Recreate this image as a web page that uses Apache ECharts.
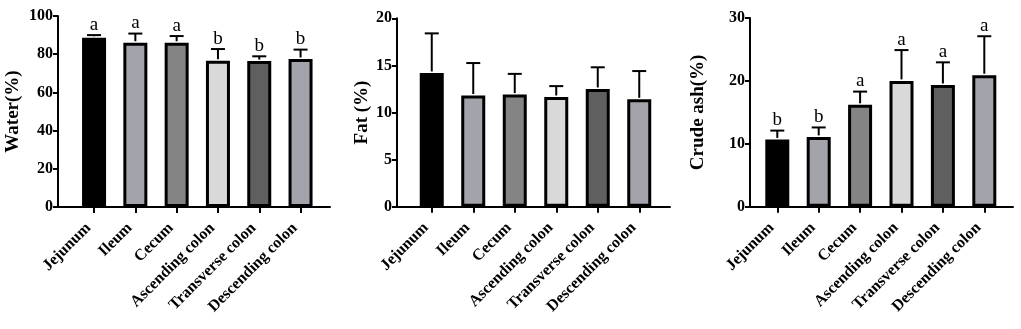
<!DOCTYPE html>
<html>
<head>
<meta charset="utf-8">
<script src="https://cdn.jsdelivr.net/npm/echarts@6/dist/echarts.min.js"></script>
<style>
  html, body { margin: 0; padding: 0; background: #fff; }
  #chart { width: 1021px; height: 329px; }
</style>
</head>
<body>
<div id="chart"></div>
<script>
// data (mean and upper SD)
const categories = ['Jejunum', 'Ileum', 'Cecum', 'Ascending colon', 'Transverse colon', 'Descending colon']
const barColors = ['#000000', '#a3a3ab', '#848484', '#d9d9d9', '#5f5f5f', '#a3a3ab']

const waterMean = [88.6, 86.0, 86.0, 76.6, 76.4, 77.5]
const waterSd = [1.4, 4.8, 3.5, 6.1, 2.5, 4.9]
const waterSig = ['a', 'a', 'a', 'b', 'b', 'b']

const fatMean = [14.2, 11.8, 11.9, 11.65, 12.5, 11.4]
const fatSd = [4.2, 3.45, 2.2, 1.15, 2.3, 3.0]
const fatSig = ['', '', '', '', '', '']

const ashMean = [10.7, 11.1, 16.2, 20.0, 19.35, 20.9]
const ashSd = [1.4, 1.5, 2.1, 4.9, 3.6, 6.2]
const ashSig = ['b', 'b', 'a', 'a', 'a', 'a']

const FONT = "'Liberation Serif', 'Times New Roman', serif"

// layout of the three panels: outer frame (axis lines) and inner band for the bars
const panels = [
  { name: 'Water(%)', max: 100, interval: 20, gap: 35, mean: waterMean, sd: waterSd, sig: waterSig,
    outer: { left: 58, width: 272, top: 16, height: 191 }, innerLeft: 73.4, innerWidth: 247.8 },
  { name: 'Fat (%)', max: 20, interval: 5, gap: 25, mean: fatMean, sd: fatSd, sig: fatSig,
    outer: { left: 397, width: 273, top: 18.3, height: 188.4 }, innerLeft: 411, innerWidth: 249 },
  { name: 'Crude ash(%)', max: 30, interval: 10, gap: 42, mean: ashMean, sd: ashSd, sig: ashSig,
    outer: { left: 750, width: 263, top: 18, height: 188.7 }, innerLeft: 756.6, innerWidth: 248.4 },
]

const grid = []
const xAxis = []
const yAxis = []
const series = []

panels.forEach((p, i) => {
  const a = i * 2
  const b = i * 2 + 1
  grid.push({ left: p.outer.left, width: p.outer.width, top: p.outer.top, height: p.outer.height })
  grid.push({ left: p.innerLeft, width: p.innerWidth, top: p.outer.top, height: p.outer.height })

  // frame axis: only the long baseline
  xAxis.push({
    type: 'value', gridIndex: a, min: 0, max: 1,
    axisLine: { show: true, lineStyle: { color: '#000', width: 2 } },
    axisTick: { show: false }, axisLabel: { show: false }, splitLine: { show: false },
  })
  // category axis for the bars
  xAxis.push({
    type: 'category', gridIndex: b, data: categories,
    axisLine: { show: false },
    axisTick: { show: true, alignWithLabel: true, length: 6, lineStyle: { color: '#000', width: 2 } },
    axisLabel: { rotate: 45, margin: 13, padding: [0, 8, 0, 0], color: '#000', fontFamily: FONT, fontWeight: 'bold', fontSize: 16, interval: 0 },
  })

  yAxis.push({
    type: 'value', gridIndex: a, min: 0, max: p.max, interval: p.interval,
    name: p.name, nameLocation: 'middle', nameGap: p.gap,
    nameTextStyle: { color: '#000', fontFamily: FONT, fontWeight: 'bold', fontSize: 19 },
    axisLine: { show: true, lineStyle: { color: '#000', width: 2 } },
    axisTick: { show: true, length: 5, lineStyle: { color: '#000', width: 2 } },
    axisLabel: { color: '#000', fontFamily: FONT, fontWeight: 'bold', fontSize: 16, margin: 5 },
    splitLine: { show: false },
  })
  yAxis.push({
    type: 'value', gridIndex: b, min: 0, max: p.max, interval: p.interval, show: false,
  })

  series.push({
    type: 'bar', xAxisIndex: b, yAxisIndex: b, barWidth: 24,
    data: p.mean.map((v, k) => ({ value: v, itemStyle: { color: barColors[k] } })),
    itemStyle: { borderColor: '#000', borderWidth: 3 },
    z: 2,
  })

  series.push({
    type: 'custom', xAxisIndex: b, yAxisIndex: b, z: 3,
    data: p.mean.map((v, k) => [k, v, v + p.sd[k]]),
    renderItem: (params, api) => {
      const idx = params.dataIndex
      const top = api.coord([api.value(0), api.value(1)])
      const cap = api.coord([api.value(0), api.value(2)])
      const children = [
        { type: 'line', shape: { x1: top[0], y1: top[1] - 1.5, x2: cap[0], y2: cap[1] }, style: { stroke: '#000', lineWidth: 2 } },
        { type: 'line', shape: { x1: cap[0] - 7, y1: cap[1], x2: cap[0] + 7, y2: cap[1] }, style: { stroke: '#000', lineWidth: 2 } },
      ]
      if (p.sig[idx]) {
        children.push({
          type: 'text',
          style: { x: cap[0], y: cap[1] - 1, text: p.sig[idx], fill: '#000', font: '19px ' + FONT, align: 'center', verticalAlign: 'bottom' },
        })
      }
      return { type: 'group', children: children }
    },
  })
})

const chartDom = echarts.init(document.getElementById('chart'))
chartDom.setOption({
  animation: false,
  backgroundColor: '#fff',
  grid: grid,
  xAxis: xAxis,
  yAxis: yAxis,
  series: series,
})
</script>
</body>
</html>
